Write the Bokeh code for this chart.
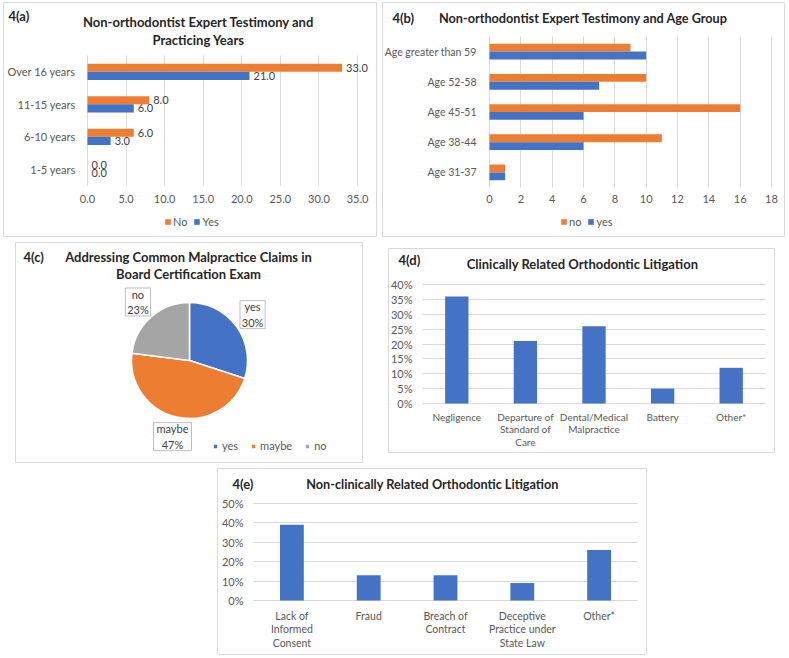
import math
from bokeh.plotting import figure
from bokeh.models import (ColumnDataSource, Range1d, Label, LabelSet, Legend, LegendItem,
                          NumeralTickFormatter, FixedTicker, Spacer, LinearAxis, Grid)
from bokeh.layouts import row, column
from bokeh.transform import dodge
from bokeh.core.properties import value
from bokeh.embed import file_html
from bokeh.resources import INLINE

# ---------------- data ----------------
a_categories = ["1-5 years", "6-10 years", "11-15 years", "Over 16 years"]
a_no = [0.0, 6.0, 8.0, 33.0]
a_yes = [0.0, 3.0, 6.0, 21.0]
a_ticks = [0, 5, 10, 15, 20, 25, 30, 35]

b_categories = ["Age 31-37", "Age 38-44", "Age 45-51", "Age 52-58", "Age greater than 59"]
b_no = [1, 11, 16, 10, 9]
b_yes = [1, 6, 6, 7, 10]
b_ticks = [0, 2, 4, 6, 8, 10, 12, 14, 16, 18]

c_labels = ["yes", "maybe", "no"]
c_values = [30, 47, 23]

d_categories = ["Negligence", "Departure of\nStandard of\nCare", "Dental/Medical\nMalpractice",
                "Battery", "Other*"]
d_values = [0.36, 0.21, 0.26, 0.05, 0.12]
d_ticks = [0, 0.05, 0.10, 0.15, 0.20, 0.25, 0.30, 0.35, 0.40]

e_categories = ["Lack of\nInformed\nConsent", "Fraud", "Breach of\nContract",
                "Deceptive\nPractice under\nState Law", "Other*"]
e_values = [0.39, 0.13, 0.13, 0.09, 0.26]
e_ticks = [0, 0.1, 0.2, 0.3, 0.4, 0.5]

# ---------------- style ----------------
ORANGE, BLUE, GRAY = "#ED7D31", "#4472C4", "#A5A5A5"
FONT = "Lato"
TXT = "#404040"
AX = "#595959"
GRID = "#D9D9D9"
TITLE = "#262626"


def panel(W, H, area, ext):
    """Figure whose frame is the whole canvas; `ext` data extents map onto the
    plot area `area` = (L, T, R, B) given in canvas pixels."""
    L, T, R, B = area
    x0, x1, y0, y1 = ext
    sx = (R - L) / (x1 - x0)
    sy = (B - T) / (y1 - y0)
    p = figure(width=W, height=H, output_backend="svg", toolbar_location=None,
               x_axis_type=None, y_axis_type=None,
               x_range=Range1d(x0 - L / sx, x1 + (W - R) / sx),
               y_range=Range1d(y0 - (H - B) / sy, y1 + T / sy),
               min_border=0, min_border_left=0, min_border_right=0,
               min_border_top=0, min_border_bottom=0)
    p.outline_line_color = GRID
    p.background_fill_color = "white"
    p.border_fill_color = "white"
    return p


def style_axis(ax, standoff, size="11px", line_height=1.2):
    ax.axis_line_color = None
    ax.major_tick_line_color = None
    ax.minor_tick_line_color = None
    ax.major_label_text_font = FONT
    ax.major_label_text_font_size = size
    ax.major_label_text_color = AX
    ax.major_label_text_line_height = line_height
    ax.major_label_standoff = standoff
    return ax


def text_at(p, H, lx, ly, text, size, bold=True, align="left", color=TITLE):
    p.add_layout(Label(x=lx, y=H - ly, x_units="screen", y_units="screen",
                       text=text, text_font=FONT, text_font_size=f"{size}px",
                       text_font_style="bold" if bold else "normal",
                       text_align=align, text_baseline="middle", text_color=color))


def make_legend(items, H, lx, ly, gw=7, standoff=2, spacing=6):
    # (lx, ly): left / vertical centre of the legend in canvas pixels
    return Legend(items=items, orientation="horizontal", location=(lx, H - ly - 6),
                  border_line_color=None, background_fill_alpha=0, padding=0, margin=0,
                  spacing=spacing, label_standoff=standoff, glyph_width=gw, glyph_height=gw,
                  label_width=0, label_height=12, label_text_font=FONT,
                  label_text_font_size="11px", label_text_color=AX)


# ---------------- panel a ----------------
WA, HA = 374, 235
pos_a = list(range(len(a_categories)))
pa = panel(WA, HA, (84, 53, 354, 183), (0, 35, -0.5, len(a_categories) - 0.5))
xa = style_axis(LinearAxis(fixed_location=-0.5, ticker=FixedTicker(ticks=a_ticks),
                           formatter=NumeralTickFormatter(format="0.0")), 3)
ya = style_axis(LinearAxis(fixed_location=0, ticker=FixedTicker(ticks=pos_a),
                           major_label_overrides={i: c for i, c in zip(pos_a, a_categories)}), 6)
pa.add_layout(xa, "below")
pa.add_layout(ya, "left")
pa.add_layout(Grid(dimension=0, ticker=FixedTicker(ticks=a_ticks), grid_line_color=GRID,
                   cross_bounds=(-0.5, len(a_categories) - 0.5)))
src_a = ColumnDataSource(dict(pos=pos_a, no=a_no, yes=a_yes,
                              no_txt=[f"{v:.1f}" for v in a_no],
                              yes_txt=[f"{v:.1f}" for v in a_yes]))
ya_no = dodge("pos", 0.125)
ya_yes = dodge("pos", -0.125)
ra_no = pa.hbar(y=ya_no, right="no", height=0.25, fill_color=ORANGE, line_color=None, source=src_a)
ra_yes = pa.hbar(y=ya_yes, right="yes", height=0.25, fill_color=BLUE, line_color=None, source=src_a)
for yy, col in ((ya_no, "no"), (ya_yes, "yes")):
    pa.add_layout(LabelSet(x=col, y=yy, text=col + "_txt", source=src_a, x_offset=4,
                           text_baseline="middle", text_font=value(FONT),
                           text_font_size=value("11px"), text_color=value(TXT)))
pa.add_layout(make_legend([LegendItem(label="No", renderers=[ra_no]),
                           LegendItem(label="Yes", renderers=[ra_yes])], HA, 161, 220))
text_at(pa, HA, 5, 13, "4(a)", 13)
text_at(pa, HA, 195, 19, "Non-orthodontist Expert Testimony and", 13, align="center")
text_at(pa, HA, 195, 37, "Practicing Years", 13, align="center")

# ---------------- panel b ----------------
WB, HB = 403, 235
pos_b = list(range(len(b_categories)))
pb = panel(WB, HB, (107, 34, 389, 185), (0, 18, -0.5, len(b_categories) - 0.5))
xb = style_axis(LinearAxis(fixed_location=-0.5, ticker=FixedTicker(ticks=b_ticks)), 1)
yb = style_axis(LinearAxis(fixed_location=0, ticker=FixedTicker(ticks=pos_b),
                           major_label_overrides={i: c for i, c in zip(pos_b, b_categories)}),
                7, size="10.5px")
pb.add_layout(xb, "below")
pb.add_layout(yb, "left")
pb.add_layout(Grid(dimension=0, ticker=FixedTicker(ticks=b_ticks), grid_line_color=GRID,
                   cross_bounds=(-0.5, len(b_categories) - 0.5)))
src_b = ColumnDataSource(dict(pos=pos_b, no=b_no, yes=b_yes))
rb_no = pb.hbar(y=dodge("pos", 0.13), right="no", height=0.26,
                fill_color=ORANGE, line_color=None, source=src_b)
rb_yes = pb.hbar(y=dodge("pos", -0.13), right="yes", height=0.26,
                 fill_color=BLUE, line_color=None, source=src_b)
pb.add_layout(make_legend([LegendItem(label="no", renderers=[rb_no]),
                           LegendItem(label="yes", renderers=[rb_yes])], HB, 178, 220))
text_at(pb, HB, 10, 15, "4(b)", 13)
text_at(pb, HB, 201, 15, "Non-orthodontist Expert Testimony and Age Group", 12.7, align="center")

# ---------------- panel c (pie) ----------------
WC, HC = 348, 221
pc = panel(WC, HC, (0, 0, WC, HC), (0, WC, 0, HC))
cx, cy, rad = 174, HC - 118, 58
total = sum(c_values)
cum = 0
starts, ends, lx, ly, txt, bw = [], [], [], [], [], []
for lab, v in zip(c_labels, c_values):
    s = math.pi / 2 - 2 * math.pi * cum / total
    cum += v
    e = math.pi / 2 - 2 * math.pi * cum / total
    m = (s + e) / 2
    starts.append(s)
    ends.append(e)
    lx.append(cx + 78 * math.cos(m))
    ly.append(cy + 78 * math.sin(m))
    pct = f"{v / total:.0%}"
    txt.append(f"{lab}\n{pct}")
    bw.append(6.4 * max(len(lab), len(pct)) + 6)
src_c = ColumnDataSource(dict(label=c_labels, start=starts, end=ends, color=[BLUE, ORANGE, GRAY],
                              lx=lx, ly=ly, txt=txt, bw=bw))
rc = pc.wedge(x=cx, y=cy, radius=rad, start_angle="start", end_angle="end", direction="clock",
              fill_color="color", line_color="white", line_width=1.5, source=src_c)
pc.rect(x="lx", y="ly", width="bw", height=28, fill_color="white", line_color="#BFBFBF",
        source=src_c)
pc.text(x="lx", y="ly", text="txt", text_align="center", text_baseline="middle",
        text_font=value(FONT), text_font_size=value("11px"), text_color=TXT,
        text_line_height=1.2, source=src_c)
pc.add_layout(make_legend([LegendItem(label=lab, renderers=[rc], index=i)
                           for i, lab in enumerate(c_labels)], HC, 197, 204,
                          gw=6, standoff=4, spacing=12))
text_at(pc, HC, 8, 14, "4(c)", 13)
text_at(pc, HC, 173, 14, "Addressing Common Malpractice Claims in", 13, align="center")
text_at(pc, HC, 173, 31, "Board Certification Exam", 13, align="center")

# ---------------- panel d ----------------
WD, HD = 387, 205
pos_d = list(range(len(d_categories)))
pdd = panel(WD, HD, (34, 36, 377, 155), (-0.5, len(d_categories) - 0.5, 0, 0.4))
xd = style_axis(LinearAxis(fixed_location=0, ticker=FixedTicker(ticks=pos_d),
                           major_label_overrides={i: c for i, c in zip(pos_d, d_categories)}),
                1, size="10px", line_height=1.05)
yd = style_axis(LinearAxis(fixed_location=-0.5, ticker=FixedTicker(ticks=d_ticks),
                           formatter=NumeralTickFormatter(format="0%")), 4)
pdd.add_layout(xd, "below")
pdd.add_layout(yd, "left")
pdd.add_layout(Grid(dimension=1, ticker=FixedTicker(ticks=d_ticks), grid_line_color=GRID,
                    cross_bounds=(-0.5, len(d_categories) - 0.5)))
src_d = ColumnDataSource(dict(pos=pos_d, val=d_values))
pdd.vbar(x="pos", top="val", width=0.34, fill_color=BLUE, line_color=None, source=src_d)
text_at(pdd, HD, 10, 11, "4(d)", 13)
text_at(pdd, HD, 194, 15, "Clinically Related Orthodontic Litigation", 13, align="center")

# ---------------- panel e ----------------
WE, HE = 430, 187
pos_e = list(range(len(e_categories)))
pe = panel(WE, HE, (36, 35, 420, 132), (-0.5, len(e_categories) - 0.5, 0, 0.5))
xe = style_axis(LinearAxis(fixed_location=0, ticker=FixedTicker(ticks=pos_e),
                           major_label_overrides={i: c for i, c in zip(pos_e, e_categories)}),
                3, size="10.5px", line_height=1.13)
ye = style_axis(LinearAxis(fixed_location=-0.5, ticker=FixedTicker(ticks=e_ticks),
                           formatter=NumeralTickFormatter(format="0%")), 4)
pe.add_layout(xe, "below")
pe.add_layout(ye, "left")
pe.add_layout(Grid(dimension=1, ticker=FixedTicker(ticks=e_ticks), grid_line_color=GRID,
                   cross_bounds=(-0.5, len(e_categories) - 0.5)))
src_e = ColumnDataSource(dict(pos=pos_e, val=e_values))
pe.vbar(x="pos", top="val", width=0.31, fill_color=BLUE, line_color=None, source=src_e)
text_at(pe, HE, 15, 15, "4(e)", 13)
text_at(pe, HE, 215, 15, "Non-clinically Related Orthodontic Litigation", 12.7, align="center")

# ---------------- layout ----------------
layout = column(
    Spacer(height=2),
    row(Spacer(width=3), pa, Spacer(width=5), pb),
    Spacer(height=5),
    row(Spacer(width=15), pc, Spacer(width=25), column(Spacer(height=6), pdd)),
    Spacer(height=5),
    row(Spacer(width=217), pe),
)

with open("out.html", "w") as f:
    f.write(file_html(layout, INLINE))
